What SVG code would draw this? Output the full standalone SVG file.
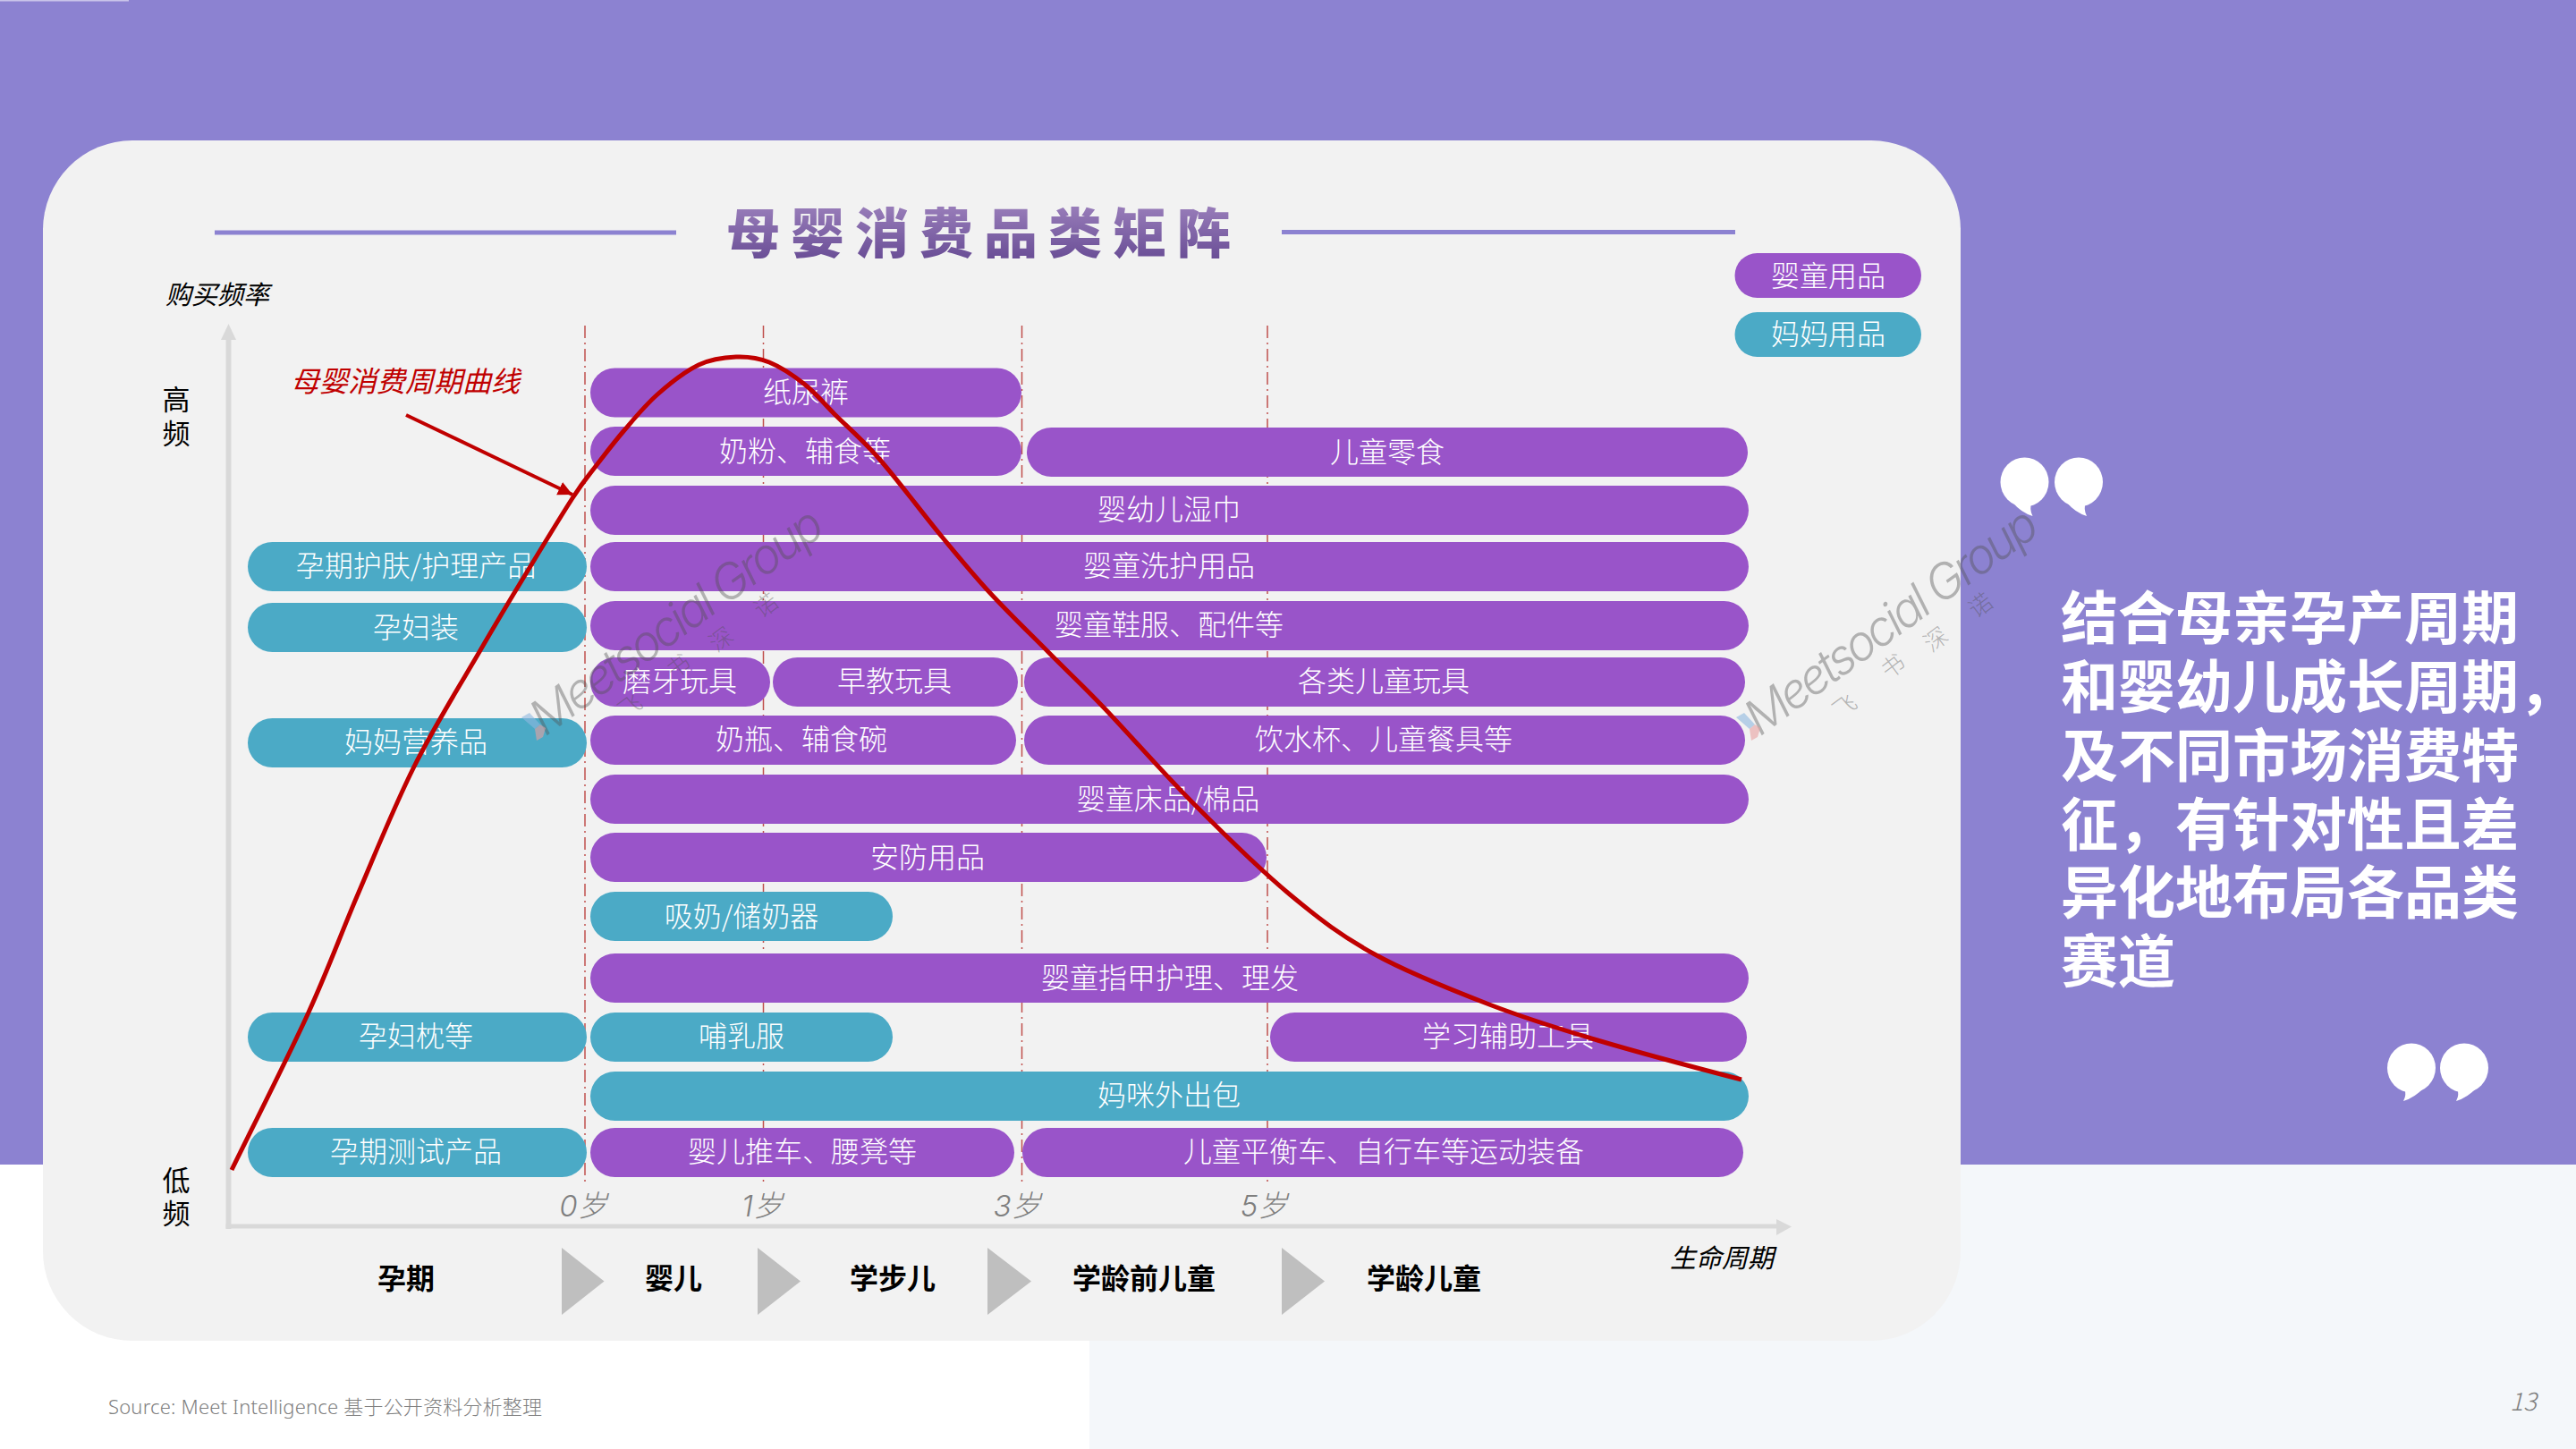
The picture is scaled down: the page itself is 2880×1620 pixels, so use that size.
<svg xmlns="http://www.w3.org/2000/svg" width="2880" height="1620" viewBox="0 0 2880 1620">
<style>
text{font-family:"Noto Sans CJK SC","Noto Sans",sans-serif;dominant-baseline:central;text-anchor:middle}
.pill{rx:27.5px;ry:27.5px}
.p{fill:#9954C9}.t{fill:#4BAAC6}
.lb{font-size:32px;fill:#fff;font-weight:300}
.leg{font-size:32px;fill:#fff;font-weight:300}
.side{font-size:31px;fill:#000;font-weight:400}
.it{font-style:italic;font-weight:400}
.age{font-family:"Inter","Noto Sans CJK SC",sans-serif;font-size:33px;fill:#7F7F7F;font-style:italic;font-weight:300}
.st{font-size:32px;fill:#000;font-weight:700}
.tri{fill:#BFBFBF}
.dash{stroke:#C0504D;stroke-width:1.5;stroke-dasharray:14 5 2 5;fill:none}
.ax{fill:#D9D9D9}
.hl{fill:#8C82D1}
.mes{font-size:64px;font-weight:700;fill:#fff;text-anchor:start}
.wm{font-family:"Inter","Noto Sans",sans-serif;font-size:54px;font-style:italic;font-weight:300;fill:#505050;fill-opacity:.4;text-anchor:start}
.wc{font-size:26px;fill:#505050;fill-opacity:.4;font-weight:300}
</style>
<defs>
<linearGradient id="tg" x1="0" y1="0" x2="0" y2="1"><stop offset="0" stop-color="#A68BC4"/><stop offset="1" stop-color="#624690"/></linearGradient>
<marker id="ah" markerUnits="userSpaceOnUse" markerWidth="18" markerHeight="18" refX="16" refY="9" orient="auto"><path d="M0,1L16,9L0,17Z" fill="#C00000"/></marker>
<g id="qo"><ellipse cx="0" cy="0" rx="27" ry="27.5" fill="#fff"/><path d="M-14,22Q-4,34 9,38Q5,30 8,22Z" fill="#fff"/></g>
<g id="qc"><ellipse cx="0" cy="0" rx="27" ry="27.5" fill="#fff"/><path d="M14,22Q4,33 -9,37Q-5,30 -8,22Z" fill="#fff"/></g>
<g id="wmk"><text class="wm" transform="rotate(-36)" x="0" y="0" textLength="390">Meetsocial Group</text>
<polygon points="-15,-6 -6,-11 6,2 0,7" fill="#8DB8E0" fill-opacity=".6"/><polygon points="0,7 6,2 12,6 9,16 2,20" fill="#E8A0A0" fill-opacity=".6"/>
<text class="wc" transform="translate(105,-20) rotate(-37)">飞</text><text class="wc" transform="translate(159,-65) rotate(-37)">书</text><text class="wc" transform="translate(207,-95) rotate(-37)">深</text><text class="wc" transform="translate(257,-133) rotate(-37)">诺</text></g>
</defs>
<rect id="bg" width="2880" height="1302" fill="#8C82D1"/>
<rect x="0" y="0" width="144" height="1.5" fill="#C9C4EA"/>
<rect x="0" y="1302" width="1218" height="318" fill="#fff"/>
<rect x="1218" y="1302" width="1662" height="318" fill="#F4F7FA"/>
<rect id="panel" x="48" y="157" width="2144" height="1342" rx="100" ry="100" fill="#F2F2F2"/>
<g id="title"><rect class="hl" x="240" y="257.5" width="516" height="5"/><rect class="hl" x="1433" y="257" width="507" height="5"/>
<text x="1100" y="256" font-size="60" font-weight="900" letter-spacing="12" fill="url(#tg)">母婴消费品类矩阵</text></g>
<g id="axes">
<rect class="ax" x="252.5" y="378" width="6" height="996"/><polygon class="ax" points="255.5,362 264,380 247,380"/>
<rect class="ax" x="252.5" y="1368.5" width="1736" height="5"/><polygon class="ax" points="2003,1371.5 1986,1363 1986,1381"/>
<line class="dash" x1="654" y1="364" x2="654" y2="1323"/><line class="dash" x1="853.5" y1="364" x2="853.5" y2="1323"/><line class="dash" x1="1142.5" y1="364" x2="1142.5" y2="1323"/><line class="dash" x1="1417" y1="364" x2="1417" y2="1323"/>
</g>
<g id="axis-labels">
<text class="it" x="243" y="327" font-size="29" fill="#000">购买频率</text>
<text class="side" x="197" y="444">高</text><text class="side" x="197" y="482">频</text>
<text class="side" x="197" y="1317">低</text><text class="side" x="197" y="1354">频</text>
<text class="it" x="1925" y="1404" font-size="29" fill="#000">生命周期</text>
<text class="age" x="652" y="1348">0岁</text><text class="age" x="852" y="1348">1岁</text><text class="age" x="1137" y="1348">3岁</text><text class="age" x="1413" y="1348">5岁</text>
</g>
<g id="n-legend-baby"><rect class="pill p" x="1939.5" y="283" width="208.5" height="50" style="rx:25px;ry:25px"/><text class="leg" x="2044" y="306">婴童用品</text></g>
<g id="n-legend-mom"><rect class="pill t" x="1939.5" y="349" width="208.5" height="50" style="rx:25px;ry:25px"/><text class="leg" x="2044" y="371">妈妈用品</text></g>
<g id="n-diaper"><rect class="pill p" x="660" y="411.5" width="482" height="55"/><text class="lb" x="901" y="436">纸尿裤</text></g>
<g id="n-milk"><rect class="pill p" x="660" y="477" width="482" height="55"/><text class="lb" x="900" y="502">奶粉、辅食等</text></g>
<g id="n-snack"><rect class="pill p" x="1148" y="478" width="806" height="55"/><text class="lb" x="1551" y="503">儿童零食</text></g>
<g id="n-wipes"><rect class="pill p" x="660" y="543" width="1295" height="55"/><text class="lb" x="1307" y="567">婴幼儿湿巾</text></g>
<g id="n-skin"><rect class="pill t" x="277" y="606" width="379" height="55"/><text class="lb" x="465" y="630">孕期护肤/护理产品</text></g>
<g id="n-wash"><rect class="pill p" x="660" y="606" width="1295" height="55"/><text class="lb" x="1307" y="630">婴童洗护用品</text></g>
<g id="n-matern"><rect class="pill t" x="277" y="674" width="379" height="55"/><text class="lb" x="465" y="699">孕妇装</text></g>
<g id="n-shoes"><rect class="pill p" x="660" y="672" width="1295" height="55"/><text class="lb" x="1307" y="696">婴童鞋服、配件等</text></g>
<g id="n-teether"><rect class="pill p" x="660" y="735" width="201" height="55"/><text class="lb" x="760" y="759">磨牙玩具</text></g>
<g id="n-edu"><rect class="pill p" x="864" y="735" width="274" height="55"/><text class="lb" x="1000" y="759">早教玩具</text></g>
<g id="n-toys"><rect class="pill p" x="1145" y="735" width="806" height="55"/><text class="lb" x="1547" y="759">各类儿童玩具</text></g>
<g id="n-nutri"><rect class="pill t" x="277" y="803" width="379" height="55"/><text class="lb" x="465" y="827">妈妈营养品</text></g>
<g id="n-bottle"><rect class="pill p" x="660" y="800" width="476" height="55"/><text class="lb" x="896" y="824">奶瓶、辅食碗</text></g>
<g id="n-cup"><rect class="pill p" x="1145" y="800" width="806" height="55"/><text class="lb" x="1547" y="824">饮水杯、儿童餐具等</text></g>
<g id="n-bed"><rect class="pill p" x="660" y="866" width="1295" height="55"/><text class="lb" x="1306" y="891">婴童床品/棉品</text></g>
<g id="n-safe"><rect class="pill p" x="660" y="931" width="756" height="55"/><text class="lb" x="1037" y="956">安防用品</text></g>
<g id="n-pump"><rect class="pill t" x="660" y="997" width="338" height="55"/><text class="lb" x="829" y="1022">吸奶/储奶器</text></g>
<g id="n-nail"><rect class="pill p" x="660" y="1066" width="1295" height="55"/><text class="lb" x="1308" y="1091">婴童指甲护理、理发</text></g>
<g id="n-pillow"><rect class="pill t" x="277" y="1132" width="379" height="55"/><text class="lb" x="465" y="1156">孕妇枕等</text></g>
<g id="n-nursing"><rect class="pill t" x="660" y="1132" width="338" height="55"/><text class="lb" x="829" y="1156">哺乳服</text></g>
<g id="n-study"><rect class="pill p" x="1420" y="1132" width="533" height="55"/><text class="lb" x="1686" y="1156">学习辅助工具</text></g>
<g id="n-bag"><rect class="pill t" x="660" y="1198" width="1295" height="55"/><text class="lb" x="1307" y="1222">妈咪外出包</text></g>
<g id="n-test"><rect class="pill t" x="277" y="1261" width="379" height="55"/><text class="lb" x="465" y="1285">孕期测试产品</text></g>
<g id="n-stroller"><rect class="pill p" x="660" y="1261" width="474" height="55"/><text class="lb" x="897" y="1285">婴儿推车、腰凳等</text></g>
<g id="n-bike"><rect class="pill p" x="1143" y="1261" width="806" height="55"/><text class="lb" x="1547" y="1285">儿童平衡车、自行车等运动装备</text></g>
<g id="stages">
<text class="st" x="454" y="1427">孕期</text><polygon class="tri" points="628,1395 675.5,1432.5 628,1470"/>
<text class="st" x="753" y="1427">婴儿</text><polygon class="tri" points="847,1395 895,1432.5 847,1470"/>
<text class="st" x="998" y="1427">学步儿</text><polygon class="tri" points="1104,1395 1153,1432.5 1104,1470"/>
<text class="st" x="1279" y="1427">学龄前儿童</text><polygon class="tri" points="1433,1395 1481,1432.5 1433,1470"/>
<text class="st" x="1592" y="1427">学龄儿童</text>
</g>
<g id="watermarks"><use href="#wmk" x="598" y="808"/><use href="#wmk" x="1956" y="808"/></g>
<g id="connectors">
<path d="M259,1308C273,1279 320.5,1185.3 344,1134C367.5,1082.7 380.2,1046.2 400,1000C419.8,953.8 440.2,902.5 463,857C485.8,811.5 516.3,762.7 537,727C557.7,691.3 569.8,671.3 587,643C604.2,614.7 626.7,577.5 640,557C653.3,536.5 657.3,532.7 667,520C676.7,507.3 686.7,494.2 698,481C709.3,467.8 721.2,453.2 735,441C748.8,428.8 766.3,415 781,408C795.7,401 809.8,399.5 823,399C836.2,398.5 847.2,399.8 860,405C872.8,410.2 887.8,420.3 900,430C912.2,439.7 919.2,449.2 933,463C946.8,476.8 963,490.2 983,513C1003,535.8 1032.3,575 1053,600C1073.7,625 1087,641.3 1107,663C1127,684.7 1152,708.8 1173,730C1194,751.2 1206.3,762.2 1233,790C1259.7,817.8 1298.2,862 1333,897C1367.8,932 1408,971.7 1442,1000C1476,1028.3 1500,1046.5 1537,1067C1574,1087.5 1623.5,1107 1665,1123C1706.5,1139 1739,1149 1786,1163C1833,1177 1920,1200 1947,1207" fill="none" stroke="#C00000" stroke-width="5"/>
<line x1="454" y1="464" x2="640" y2="553" stroke="#C00000" stroke-width="4" marker-end="url(#ah)"/>
</g>
<text class="it" x="453" y="424" font-size="32" fill="#C00000">母婴消费周期曲线</text>
<g id="message">
<text class="mes" x="2304" y="686">结合母亲孕产周期</text>
<text class="mes" x="2304" y="763">和婴幼儿成长周期，</text>
<text class="mes" x="2304" y="840">及不同市场消费特</text>
<text class="mes" x="2304" y="917">征，有针对性且差</text>
<text class="mes" x="2304" y="993">异化地布局各品类</text>
<text class="mes" x="2304" y="1070">赛道</text>
</g>
<g id="quotes"><use href="#qo" x="2263.5" y="539"/><use href="#qo" x="2324" y="539"/><use href="#qc" x="2696" y="1194"/><use href="#qc" x="2755" y="1194"/></g>
<g id="footer">
<text x="121" y="1572" font-size="22" fill="#808080" style="text-anchor:start;font-family:'Noto Sans','Noto Sans CJK SC',sans-serif;font-weight:300" textLength="485">Source: Meet Intelligence 基于公开资料分析整理</text>
<text x="2821" y="1565" font-size="28" fill="#7F7F7F" font-style="italic" font-weight="300">13</text>
</g>
</svg>
